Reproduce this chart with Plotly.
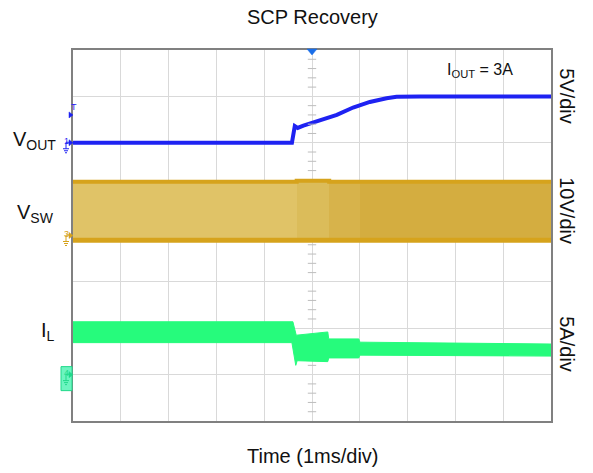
import numpy as np
import plotly.graph_objects as go

# ---------------- data (read from the scope capture) ----------------
# time axis in ms, trigger at 0, 1 ms/div, 10 divisions
x_range = [-5, 5]

# VOUT (5 V/div)
vout_t = [-5, -0.42, -0.36, -0.30, -0.18, 0.17, 0.52, 0.86, 1.21, 1.56, 1.77, 2.26, 5]
vout_v = [0, 0, 1.8, 1.6, 1.85, 2.4, 3.0, 3.8, 4.4, 4.8, 4.95, 5.0, 5.0]

# VSW (10 V/div) switching envelope, drawn as segments
vsw_edges = [-5, -0.32, 0.36, 1.01, 5]
vsw_top = [11.9, 12.1, 11.9, 11.9]
vsw_bot = [-1.4, -1.4, -1.4, -1.4]
vsw_edge_top = [11.6, 11.8, 11.6, 11.6]
vsw_edge_bot = [-1.0, -1.0, -1.0, -1.0]
vsw_colors = ["#e0c367", "#dbbc5a", "#d7b34b", "#d4ad40"]

# IL (5 A/div) ripple envelope
il_top_t = [-5, -0.40, -0.33, 0.33, 0.35, 0.98, 1.00, 5]
il_top_v = [5.7, 5.7, 4.25, 4.6, 3.85, 3.85, 3.5, 3.3]
il_bot_t = [-5, -0.42, -0.34, -0.31, -0.29, 0.33, 0.35, 0.98, 1.00, 5]
il_bot_v = [3.45, 3.45, 1.0, 1.5, 1.55, 1.4, 1.8, 1.8, 2.1, 2.0]

trig_level = 3.0  # VOUT trigger level (V)

# axis ranges: 8 vertical divisions
vout_range = [-30, 10]   # ground at 6 div
vsw_range = [-40, 40]    # ground at 4 div
il_range = [-5, 35]      # ground at 1 div

BLUE = "#1e22f2"
GOLD = "#d6a31c"
GREEN = "#26fb7c"
FONT = "Liberation Sans, Arial, sans-serif"

fig = go.Figure()

# IL envelope
fig.add_trace(go.Scatter(
    x=il_top_t + il_bot_t[::-1], y=il_top_v + il_bot_v[::-1],
    fill="toself", fillcolor=GREEN, mode="lines",
    line=dict(color=GREEN, width=1), yaxis="y3", hoverinfo="skip"))

# VSW envelope segments (as floating bars)
edges = np.array(vsw_edges, dtype=float)
top = np.array(vsw_top)
bot = np.array(vsw_bot)
fig.add_trace(go.Bar(
    x=(edges[:-1] + edges[1:]) / 2, width=np.diff(edges), base=bot, y=top - bot,
    marker=dict(color=vsw_colors, line=dict(width=0)), opacity=1,
    yaxis="y2", hoverinfo="skip"))
for ev, w in ((vsw_edge_top, 4), (vsw_edge_bot, 5)):
    fig.add_trace(go.Scatter(
        x=vsw_edges, y=ev + [ev[-1]], mode="lines", line_shape="hv",
        line=dict(color=GOLD, width=w), yaxis="y2", hoverinfo="skip"))

# VOUT trace
fig.add_trace(go.Scatter(x=vout_t, y=vout_v, mode="lines",
                         line=dict(color=BLUE, width=4), yaxis="y", hoverinfo="skip"))

# minor ticks on the centre vertical graticule line
minor = [v for v in np.arange(vout_range[0], vout_range[1] + 0.01, 1.0) if v % 5 != 0]
fig.add_trace(go.Scatter(x=[0] * len(minor), y=minor, mode="markers",
                         marker=dict(symbol="line-ew", size=6,
                                     line=dict(color="#bdbdbd", width=1)),
                         yaxis="y", hoverinfo="skip"))

shapes = []
annotations = []


def chan_marker(yref, yval, num, color, box=None):
    if box:
        shapes.append(dict(type="rect", xref="paper", yref=yref, xsizemode="pixel",
                           ysizemode="pixel", xanchor=0, yanchor=yval,
                           x0=-12, x1=-1, y0=8, y1=-16,
                           fillcolor=box, line=dict(color=color, width=1)))
    # arrow
    shapes.append(dict(type="path", xref="paper", yref=yref, xsizemode="pixel",
                       ysizemode="pixel", xanchor=0, yanchor=yval,
                       path="M -4,3 L 0,0 L -4,-3 Z", fillcolor=color,
                       line=dict(color=color, width=0.5)))
    # ground symbol
    shapes.append(dict(type="path", xref="paper", yref=yref, xsizemode="pixel",
                       ysizemode="pixel", xanchor=0, yanchor=yval,
                       path="M -3,0.5 L -7,0.5 L -7,-6 M -10,-6 L -4,-6 M -9,-8 L -5,-8 M -8,-10 L -6,-10",
                       line=dict(color=color, width=1)))
    annotations.append(dict(text=num, xref="paper", yref=yref, x=0, y=yval,
                            xshift=-11, yshift=2, showarrow=False,
                            font=dict(size=9, color=color, family=FONT)))


chan_marker("y", 0, "1", BLUE)
chan_marker("y2", 0, "3", GOLD)
chan_marker("y3", 0, "4", "#1fd98a", box="#6df5c0")

# trigger level marker "T"
shapes.append(dict(type="path", xref="paper", yref="y", xsizemode="pixel",
                   ysizemode="pixel", xanchor=0, yanchor=trig_level,
                   path="M -4,3 L 0,0 L -4,-3 Z", fillcolor=BLUE,
                   line=dict(color=BLUE, width=0.5)))
annotations.append(dict(text="T", xref="paper", yref="y", x=0, y=trig_level,
                        xshift=-4, yshift=8, showarrow=False,
                        font=dict(size=9, color=BLUE, family=FONT)))
# trigger position marker at top
shapes.append(dict(type="path", xref="x", yref="paper", xsizemode="pixel",
                   ysizemode="pixel", xanchor=0, yanchor=1,
                   path="M -5,1 L 5,1 L 0,-5 Z", fillcolor="#1a6ee8",
                   line=dict(color="#1a6ee8", width=0.5)))

txt = dict(showarrow=False, font=dict(family=FONT, size=20, color="#111111"))
rot = dict(textangle=90, xanchor="center", yanchor="middle", **txt)
annotations += [
    dict(text="SCP Recovery", xref="paper", yref="paper", x=0.5, y=1.0885,
         yanchor="middle", **txt),
    dict(text="Time (1ms/div)", xref="paper", yref="paper", x=0.5, y=-0.094,
         yanchor="middle", **txt),
    dict(text="5V/div", xref="paper", yref="paper", x=1.033, y=0.876, **rot),
    dict(text="10V/div", xref="paper", yref="paper", x=1.033, y=0.566, **rot),
    dict(text="5A/div", xref="paper", yref="paper", x=1.033, y=0.2075, **rot),
    dict(text="V<sub>OUT</sub>", xref="paper", yref="paper", x=-0.031, y=0.755,
         xanchor="right", yanchor="middle", **txt),
    dict(text="V<sub>SW</sub>", xref="paper", yref="paper", x=-0.035, y=0.56,
         xanchor="right", yanchor="middle", **txt),
    dict(text="I<sub>L</sub>", xref="paper", yref="paper", x=-0.033, y=0.24,
         xanchor="right", yanchor="middle", **txt),
    dict(text="I<sub>OUT</sub> = 3A", xref="paper", yref="paper", x=0.852,
         y=0.945, xanchor="center", yanchor="middle",
         showarrow=False, font=dict(family=FONT, size=16, color="#111111")),
]

grid = "#d9d9d9"
frame = "#808080"
fig.update_layout(
    width=593, height=473,
    margin=dict(l=73, r=42, t=50, b=52),
    paper_bgcolor="white", plot_bgcolor="white",
    showlegend=False, barmode="overlay", bargap=0,
    xaxis=dict(range=x_range, dtick=1, tick0=0, showgrid=True, gridcolor=grid,
               gridwidth=1, zeroline=False, showticklabels=False, ticks="",
               showline=True, mirror=True, linecolor=frame, linewidth=1.5),
    yaxis=dict(range=vout_range, dtick=5, tick0=0, showgrid=True, gridcolor=grid,
               gridwidth=1, zeroline=False, showticklabels=False, ticks="",
               showline=True, mirror=True, linecolor=frame, linewidth=1.5),
    yaxis2=dict(range=vsw_range, overlaying="y", visible=False),
    yaxis3=dict(range=il_range, overlaying="y", visible=False),
    shapes=shapes, annotations=annotations,
)

fig.write_html("out.html", config={"displayModeBar": False},
               post_script="document.body.style.margin='0';")
